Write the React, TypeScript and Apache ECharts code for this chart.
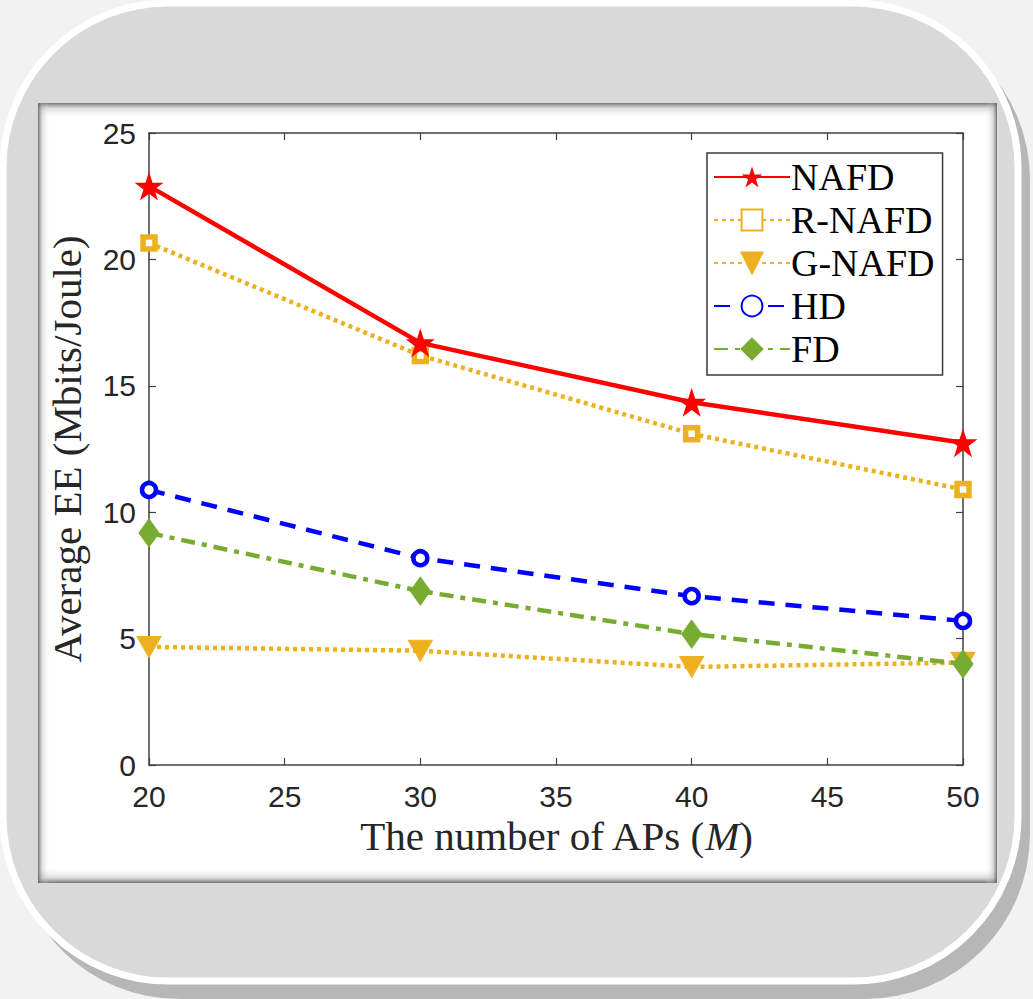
import React, { useEffect, useRef } from "react";
import * as echarts from "echarts";

const xTicks = [20, 25, 30, 35, 40, 45, 50];
const xValues = [20, 30, 40, 50];
const seriesNames = ["NAFD", "R-NAFD", "G-NAFD", "HD", "FD"];
const nafd = [22.9, 16.7, 14.35, 12.75];
const rNafd = [20.65, 16.2, 13.1, 10.9];
const gNafd = [4.67, 4.52, 3.88, 4.05];
const hd = [10.88, 8.18, 6.68, 5.7];
const fd = [9.18, 6.88, 5.18, 4.0];

const STAR = "path://M50,0 L61.8,35.3 L99,35.3 L68.8,57.3 L80.4,92.7 L50,70.8 L19.6,92.7 L31.2,57.3 L1,35.3 L38.2,35.3 Z";

export default function App() {
  const ref = useRef<HTMLDivElement>(null);
  useEffect(() => {
    const chart = echarts.init(ref.current!, null, { renderer: "svg" });
    const pair = (ys: number[]) => xValues.map((x, i) => [x, ys[i]]);
    const tickFont = { fontFamily: "Liberation Sans", fontSize: 30, color: "#262626" };
    const serif = "Liberation Serif";
    const edge = (x: number, y: number, w: number, h: number, x1: number, y1: number, x2: number, y2: number) => ({
      type: "rect",
      z: -5,
      silent: true,
      shape: { x, y, width: w, height: h },
      style: {
        fill: new echarts.graphic.LinearGradient(x1, y1, x2, y2, [
          { offset: 0, color: "rgba(90,90,90,0.85)" },
          { offset: 0.35, color: "rgba(160,160,160,0.35)" },
          { offset: 1, color: "rgba(255,255,255,0)" },
        ]),
      },
    });
    const axisLine = { show: true, onZero: false, lineStyle: { color: "#404040", width: 1.5 } };
    const axisTick = { show: true, inside: true, length: 7, lineStyle: { color: "#404040", width: 1.2 } };
    chart.setOption({
      animation: false,
      backgroundColor: "transparent",
      graphic: [
        { type: "rect", z: -10, silent: true, shape: { x: 14, y: 15, width: 1016, height: 984, r: 165 }, style: { fill: "#b7b7b7" } },
        { type: "rect", z: -9, silent: true, shape: { x: 3, y: 3, width: 1015, height: 978, r: 165 }, style: { fill: "#d9d9d9", stroke: "#ffffff", lineWidth: 7 } },
        { type: "rect", z: -8, silent: true, shape: { x: 38, y: 103, width: 959, height: 780 }, style: { fill: "#ffffff" } },
        edge(38, 103, 959, 16, 0, 0, 0, 1),
        edge(38, 867, 959, 16, 0, 1, 0, 0),
        edge(38, 103, 12, 780, 0, 0, 1, 0),
        edge(985, 103, 12, 780, 1, 0, 0, 0),
      ],
      legend: {
        orient: "vertical",
        left: 707,
        top: 153,
        data: seriesNames,
        backgroundColor: "#ffffff",
        borderColor: "#3a3a3a",
        borderWidth: 1.5,
        borderRadius: 0,
        padding: [5, 8, 7, 6],
        itemWidth: 76,
        itemHeight: 26,
        itemGap: 5,
        textStyle: { fontFamily: serif, fontSize: 38, color: "#000000", padding: [2, 0, 0, -4] },
      },
      grid: { left: 149, right: 70, top: 133, bottom: 234, containLabel: false },
      xAxis: [
        {
          type: "value",
          min: 20,
          max: 50,
          interval: 5,
          name: "The number of APs ({i|M})",
          nameLocation: "middle",
          nameGap: 50,
          nameTextStyle: {
            fontFamily: serif,
            fontSize: 41,
            color: "#262626",
            rich: { i: { fontFamily: serif, fontSize: 41, fontStyle: "italic", color: "#262626" } },
          },
          axisLine,
          axisTick,
          axisLabel: { ...tickFont, margin: 16, formatter: (v: number) => (xTicks.includes(v) ? String(v) : "") },
          splitLine: { show: false },
        },
        {
          type: "value",
          position: "top",
          min: 20,
          max: 50,
          interval: 5,
          axisLine,
          axisTick,
          axisLabel: { show: false },
          splitLine: { show: false },
        },
      ],
      yAxis: [
        {
          type: "value",
          min: 0,
          max: 25,
          interval: 5,
          name: "Average EE (Mbits/Joule)",
          nameLocation: "middle",
          nameGap: 62,
          nameTextStyle: { fontFamily: serif, fontSize: 41, color: "#262626" },
          axisLine,
          axisTick,
          axisLabel: { ...tickFont, margin: 13 },
          splitLine: { show: false },
        },
        {
          type: "value",
          position: "right",
          min: 0,
          max: 25,
          interval: 5,
          axisLine,
          axisTick,
          axisLabel: { show: false },
          splitLine: { show: false },
        },
      ],
      series: [
        {
          name: "NAFD",
          type: "line",
          data: pair(nafd),
          symbol: STAR,
          symbolSize: 29,
          lineStyle: { color: "#ff0000", width: 4.5, type: "solid" },
          itemStyle: { color: "#ff0000", borderWidth: 0 },
          z: 6,
        },
        {
          name: "R-NAFD",
          type: "line",
          data: pair(rNafd),
          symbol: "rect",
          symbolSize: 12,
          lineStyle: { color: "#edb120", width: 4.5, type: [4, 4] },
          itemStyle: { color: "#ffffff", borderColor: "#edb120", borderWidth: 5.5 },
          z: 5,
        },
        {
          name: "G-NAFD",
          type: "line",
          data: pair(gNafd),
          symbol: "triangle",
          symbolRotate: 180,
          symbolSize: [24, 21],
          lineStyle: { color: "#edb120", width: 4.5, type: [4, 4] },
          itemStyle: { color: "#edb120", borderColor: "#edb120", borderWidth: 1 },
          z: 3,
        },
        {
          name: "HD",
          type: "line",
          data: pair(hd),
          symbol: "circle",
          symbolSize: 14,
          lineStyle: { color: "#0000ff", width: 4.5, type: [16, 11] },
          itemStyle: { color: "#ffffff", borderColor: "#0000ff", borderWidth: 4.5 },
          z: 4,
        },
        {
          name: "FD",
          type: "line",
          data: pair(fd),
          symbol: "diamond",
          symbolSize: [20, 28],
          lineStyle: { color: "#77ac30", width: 4.5, type: [14, 7, 5, 7] },
          itemStyle: { color: "#77ac30", borderColor: "#77ac30", borderWidth: 1 },
          z: 4,
        },
      ],
    });
    return () => chart.dispose();
  }, []);
  return (
    <div style={{ position: "fixed", left: 0, top: 0, width: 1033, height: 999, background: "#f2f2f2" }}>
      <div ref={ref} style={{ width: 1033, height: 999 }} />
    </div>
  );
}
